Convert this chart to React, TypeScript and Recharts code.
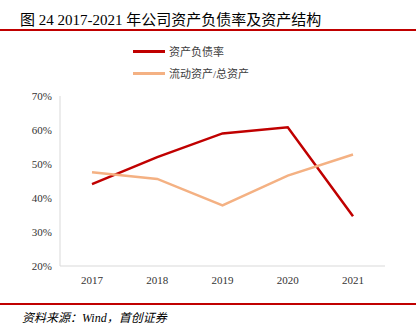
import { LineChart, Line, XAxis, YAxis } from "recharts";

const years = ["2017", "2018", "2019", "2020", "2021"];
const debtRatio = [44.1, 52.0, 59.0, 60.8, 34.6];
const currentShare = [47.6, 45.6, 37.8, 46.6, 52.8];
const yTicks = [20, 30, 40, 50, 60, 70];

const data = years.map((year, i) => ({
  year,
  debt: debtRatio[i],
  current: currentShare[i],
}));

const serif = '"Times New Roman", "Liberation Serif", "Noto Sans CJK SC", serif';

const legendItems = [
  { label: "资产负债率", color: "#C00000" },
  { label: "流动资产/总资产", color: "#F4B183" },
];

export default function App() {
  return (
    <div style={{ position: "absolute", left: 0, top: 0, width: 416, height: 329, background: "#fff", fontFamily: serif }}>
      <div style={{ position: "absolute", left: 20, top: 8, fontSize: 15, color: "#000", whiteSpace: "nowrap" }}>
        图 24 2017-2021 年公司资产负债率及资产结构
      </div>
      <div style={{ position: "absolute", left: 0, top: 29, width: 416, height: 1.5, background: "#C00000" }} />
      <div style={{ position: "absolute", left: 133, top: 40, fontSize: 11, color: "#404040" }}>
        {legendItems.map((it) => (
          <div key={it.label} style={{ display: "flex", alignItems: "center", height: 22 }}>
            <span style={{ display: "inline-block", width: 32, height: 3, background: it.color, marginRight: 4 }} />
            <span>{it.label}</span>
          </div>
        ))}
      </div>
      <LineChart width={416} height={329} data={data} margin={{ top: 96, right: 31, bottom: 0, left: 0 }}>
        <XAxis
          dataKey="year"
          height={63}
          padding={{ left: 32, right: 32 }}
          tickLine={false}
          tickMargin={4}
          axisLine={{ stroke: "#D9D9D9" }}
          tick={{ fontSize: 11, fill: "#333", fontFamily: serif }}
        />
        <YAxis
          width={60}
          domain={[20, 70]}
          ticks={yTicks}
          tickFormatter={(v: number) => `${v}%`}
          tickLine={false}
          axisLine={{ stroke: "#D9D9D9" }}
          tick={{ fontSize: 11, fill: "#333", fontFamily: serif }}
        />
        <Line dataKey="debt" stroke="#C00000" strokeWidth={2.5} dot={false} isAnimationActive={false} />
        <Line dataKey="current" stroke="#F4B183" strokeWidth={2.5} dot={false} isAnimationActive={false} />
      </LineChart>
      <div style={{ position: "absolute", left: 0, top: 303, width: 416, height: 1.5, background: "#C00000" }} />
      <div style={{ position: "absolute", left: 22, top: 308, fontSize: 12, fontStyle: "italic", color: "#000", whiteSpace: "nowrap" }}>
        资料来源：Wind，首创证券
      </div>
    </div>
  );
}
